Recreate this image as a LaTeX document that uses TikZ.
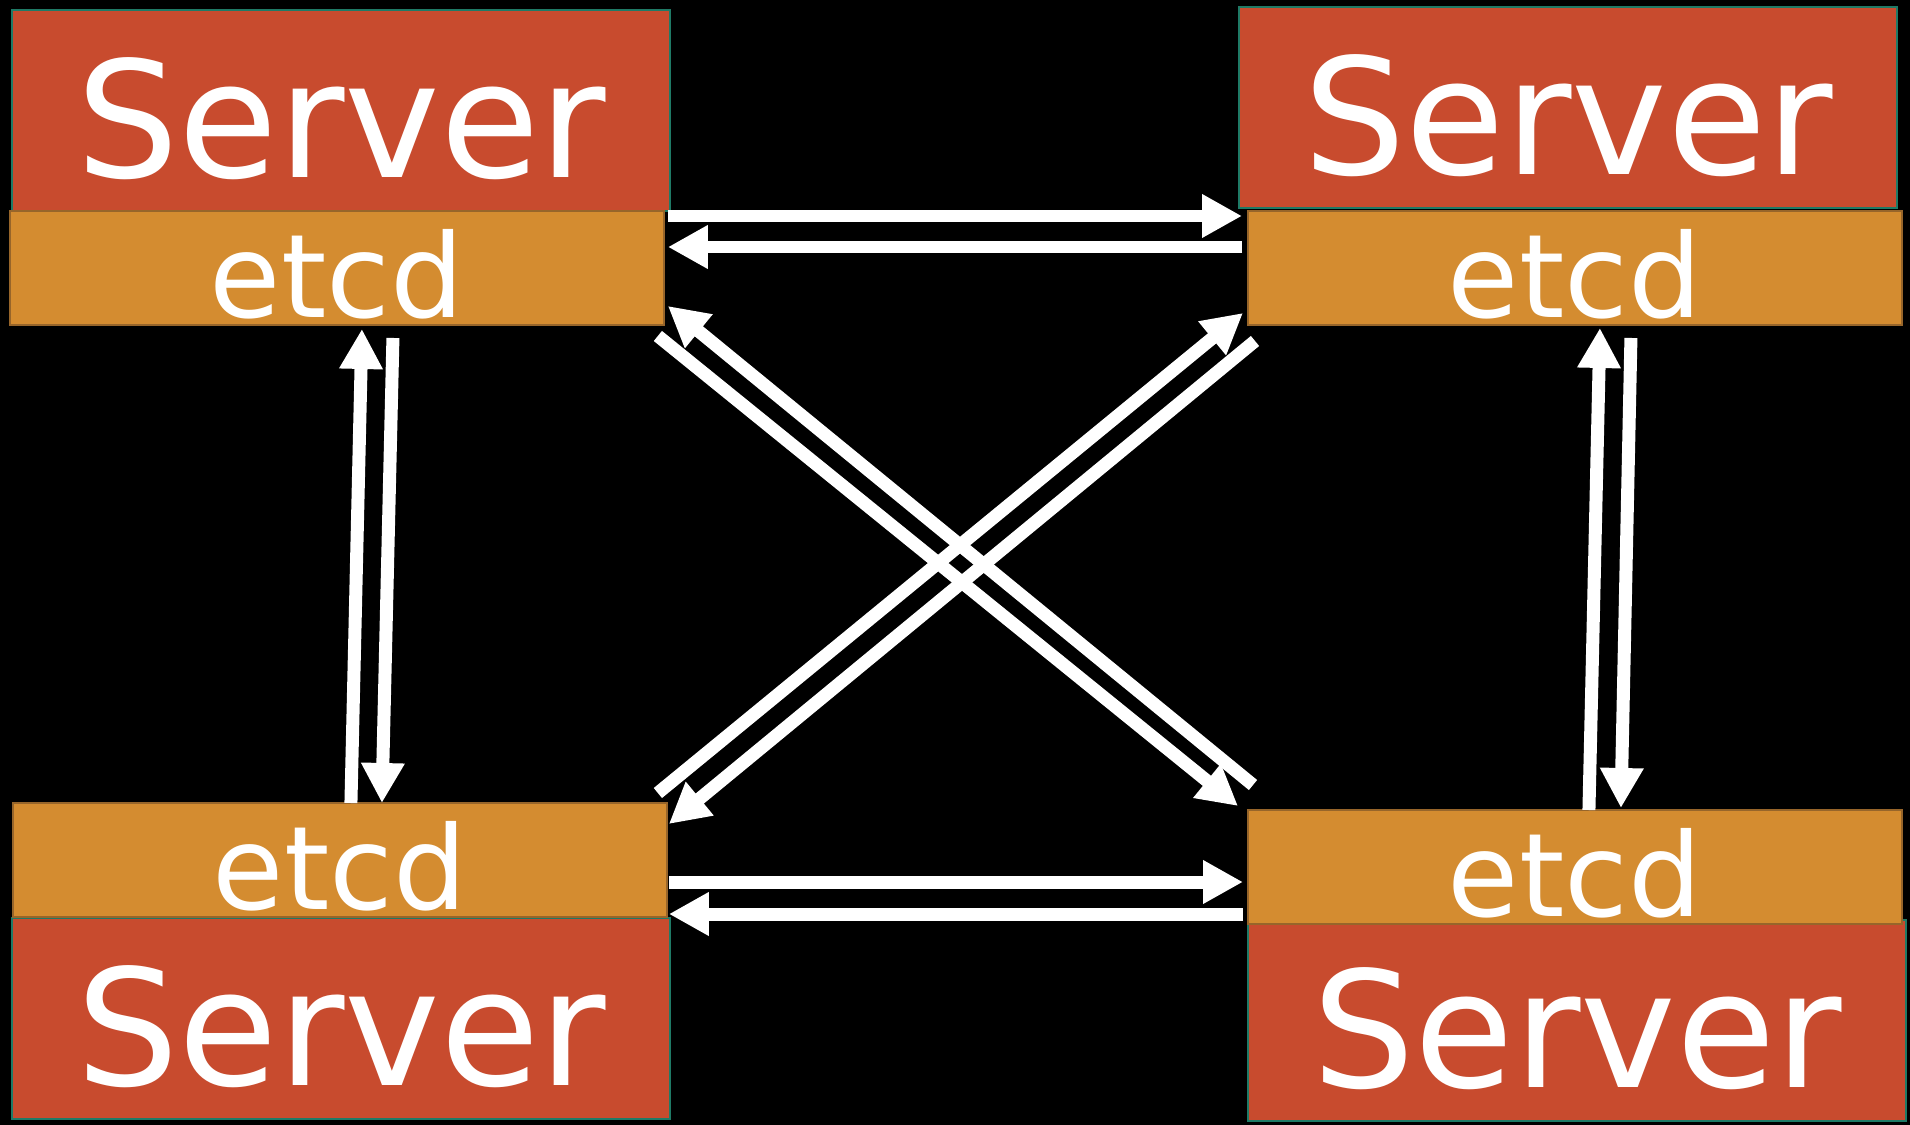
\documentclass[tikz,border=0pt]{standalone}
\usepackage{fontspec}
\setmainfont{DejaVu Sans}
\usetikzlibrary{arrows.meta}

\definecolor{srvfill}{HTML}{C84B2E}
\definecolor{srvline}{HTML}{1F7A66}
\definecolor{etcdfill}{HTML}{D48C30}
\definecolor{etcdline}{HTML}{97652A}

\begin{document}
\begin{tikzpicture}[
  x=0.02cm,
  y=-0.02cm,
  inner sep=0pt,
  outer sep=0pt,
  server/.style={
    anchor=north west,
    fill=srvfill,
    draw=srvline,
    line width=0.04cm,
    minimum width=13.17cm,
    minimum height=4.02cm,
    text=white,
    text height=2.68cm,
    text depth=0pt,
    font=\fontsize{92}{110}\selectfont,
  },
  etcdbox/.style={
    anchor=north west,
    fill=etcdfill,
    draw=etcdline,
    line width=0.05cm,
    minimum width=13.08cm,
    minimum height=2.28cm,
    text=white,
    text height=2.0cm,
    text depth=0pt,
    font=\fontsize{66}{80}\selectfont,
  },
  link/.style={
    white,
    line width=0.26cm,
    -{Triangle[length=0.8cm,width=0.82cm]},
  },
]
  \path[fill=black, use as bounding box] (0,0) rectangle (1910,1125);

  \foreach \name/\x/\y in {
    srvA/12/10,
    srvB/1239/7,
    srvC/12/918,
    srvD/1248/920%
  } {
    \node[server] (\name) at (\x,\y) {Server};
  }
  \foreach \name/\x/\y in {
    etcdA/10/211,
    etcdB/1248/211,
    etcdC/13/803,
    etcdD/1248/810%
  } {
    \node[etcdbox] (\name) at (\x,\y) {etcd};
  }

  \def\Link#1#2#3#4{
    \draw[link] ([shift={#2}]#1) -- ([shift={#4}]#3);%
  }
  \Link{etcdA.north east}{(4,5)}{etcdB.north west}{(-6,5)}
  \Link{etcdB.north west}{(-6,36)}{etcdA.north east}{(4,36)}
  \Link{etcdC.north east}{(2,79)}{etcdD.north west}{(-5,72)}
  \Link{etcdD.north west}{(-5,104)}{etcdC.north east}{(2,111)}
  \Link{etcdC.north}{(11,0)}{etcdA.south}{(25,4)}
  \Link{etcdA.south}{(56,13)}{etcdC.north}{(42,0)}
  \Link{etcdD.north}{(14,0)}{etcdB.south}{(25,3)}
  \Link{etcdB.south}{(56,13)}{etcdD.north}{(46,-2)}
  \Link{etcdA.south east}{(-6,11)}{etcdD.north west}{(-10,-4)}
  \Link{etcdD.north west}{(5,-25)}{etcdA.south east}{(4,-19)}
  \Link{etcdB.south west}{(7,16)}{etcdC.north east}{(2,21)}
  \Link{etcdC.north east}{(-9,-10)}{etcdB.south west}{(-5,-12)}
\end{tikzpicture}
\end{document}
